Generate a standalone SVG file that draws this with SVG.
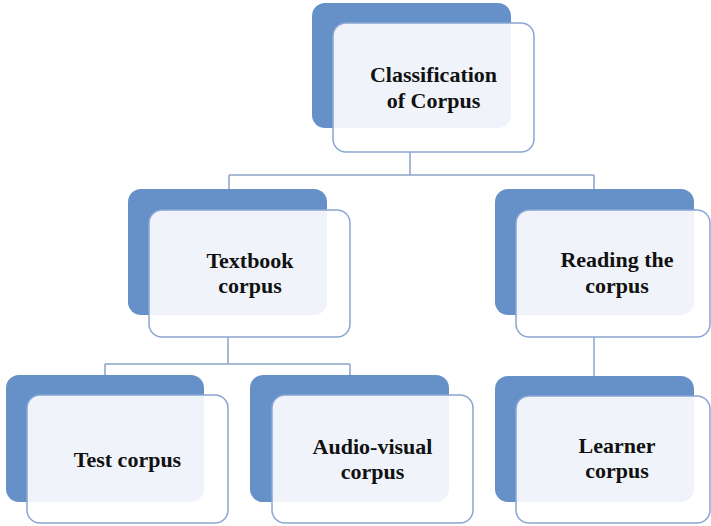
<svg xmlns="http://www.w3.org/2000/svg" width="711" height="526" viewBox="0 0 711 526">
<style>
.back{fill:#6690c8;}
.front{fill:#ffffff;fill-opacity:0.9;stroke:#8aa6d2;stroke-width:1.5;}
.lbl{font-family:'Liberation Serif','Tinos','Nimbus Roman','Times New Roman','DejaVu Serif',serif;font-weight:700;font-size:22px;fill:#111111;text-anchor:middle;}
.conn{fill:none;stroke:#8aa3c8;stroke-width:1.5;}
</style>
<rect width="711" height="526" fill="#ffffff"/>
<g id="connectors">
<path class="conn" d="M410,152 V175 M229,175 H594 M229,175 V189 M594,175 V189"/>
<path class="conn" d="M228,337 V364 M105,364 H350 M105,364 V375 M350,364 V375"/>
<path class="conn" d="M594,337 V376"/>
</g>
<g id="node-classification">
<rect class="back" x="312" y="3" width="199" height="125" rx="13"/>
<rect class="front" x="333" y="23" width="201" height="129" rx="13"/>
<text class="lbl" x="433.5" y="82">Classification</text>
<text class="lbl" x="433.5" y="108">of Corpus</text>
</g>
<g id="node-textbook">
<rect class="back" x="128" y="189" width="199" height="126" rx="13"/>
<rect class="front" x="149" y="210" width="201" height="127" rx="13"/>
<text class="lbl" x="250" y="268">Textbook</text>
<text class="lbl" x="250" y="293">corpus</text>
</g>
<g id="node-reading">
<rect class="back" x="495" y="189" width="199" height="126" rx="13"/>
<rect class="front" x="516" y="210" width="194" height="127" rx="13"/>
<text class="lbl" x="617" y="267">Reading the</text>
<text class="lbl" x="617" y="293">corpus</text>
</g>
<g id="node-test">
<rect class="back" x="6" y="375" width="198" height="127" rx="13"/>
<rect class="front" x="27" y="395" width="201" height="128" rx="13"/>
<text class="lbl" x="127.5" y="467">Test corpus</text>
</g>
<g id="node-audiovisual">
<rect class="back" x="250" y="375" width="199" height="127" rx="13"/>
<rect class="front" x="272" y="395" width="201" height="128" rx="13"/>
<text class="lbl" x="372.5" y="454">Audio-visual</text>
<text class="lbl" x="372.5" y="479">corpus</text>
</g>
<g id="node-learner">
<rect class="back" x="495" y="376" width="199" height="126" rx="13"/>
<rect class="front" x="516" y="396" width="194" height="127" rx="13"/>
<text class="lbl" x="617" y="453">Learner</text>
<text class="lbl" x="617" y="478">corpus</text>
</g>
</svg>
